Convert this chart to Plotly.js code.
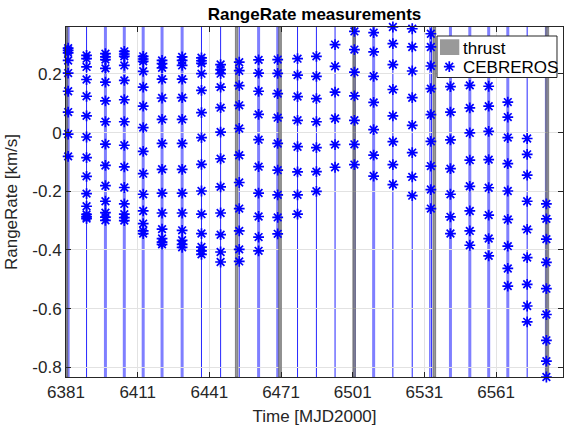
<!DOCTYPE html>
<html>
<head>
<meta charset="utf-8">
<script src="https://cdn.plot.ly/plotly-3.0.1.min.js"></script>
<style>
  html, body { margin: 0; padding: 0; background: #fff; }
  #chart { width: 564px; height: 430px; }
</style>
</head>
<body>
<div id="chart"></div>
<script>
// Tracking passes (MJD2000 day of each pass)
const passDays = [6381.9, 6389.6, 6397.5, 6405.4, 6413.3, 6421.2, 6429.6, 6437.7, 6445.7,
  6453.5, 6461.6, 6469.6, 6477.9, 6485.8, 6493.6, 6501.7, 6509.75, 6517.8, 6525.9,
  6533.7, 6541.9, 6550.0, 6557.9, 6565.9, 6574.0, 6582.05];

// Range-rate samples of each pass [km/s]
const pass01 = [0.288, 0.280, 0.272, 0.246, 0.203, 0.141, 0.070, -0.005, -0.081];
const pass02 = [0.263, 0.252, 0.224, 0.181, 0.124, 0.057, -0.015, -0.085, -0.149, -0.208, -0.251, -0.279, -0.287, -0.293];
const pass03 = [0.269, 0.258, 0.249, 0.219, 0.172, 0.108, 0.037, -0.039, -0.112, -0.181, -0.234, -0.273, -0.288, -0.299];
const pass04 = [0.277, 0.268, 0.260, 0.229, 0.178, 0.112, 0.037, -0.043, -0.117, -0.187, -0.243, -0.278, -0.290, -0.300];
const pass05 = [0.260, 0.251, 0.243, 0.209, 0.155, 0.090, 0.017, -0.064, -0.140, -0.210, -0.267, -0.310, -0.335, -0.344];
const pass06 = [0.246, 0.235, 0.221, 0.182, 0.118, 0.045, -0.037, -0.125, -0.206, -0.274, -0.329, -0.361, -0.373, -0.381];
const pass07 = [0.258, 0.246, 0.229, 0.182, 0.119, 0.045, -0.037, -0.125, -0.206, -0.274, -0.333, -0.367, -0.381, -0.391];
const pass08 = [0.255, 0.245, 0.236, 0.201, 0.144, 0.068, -0.017, -0.108, -0.199, -0.278, -0.344, -0.390, -0.403, -0.415];
const pass09 = [0.232, 0.215, 0.201, 0.155, 0.085, 0.002, -0.089, -0.185, -0.274, -0.348, -0.407, -0.441];
const pass10 = [0.240, 0.211, 0.160, 0.093, 0.014, -0.077, -0.170, -0.259, -0.335, -0.398, -0.439];
const pass11 = [0.248, 0.203, 0.141, 0.062, -0.024, -0.116, -0.206, -0.286, -0.356, -0.403];
const pass12 = [0.249, 0.202, 0.133, 0.051, -0.037, -0.128, -0.212, -0.289, -0.345];
const pass13 = [0.252, 0.196, 0.123, 0.042, -0.048, -0.134, -0.212, -0.278];
const pass14 = [0.260, 0.192, 0.116, 0.037, -0.051, -0.133, -0.200];
const pass15 = [0.300, 0.226, 0.138, 0.048, -0.041, -0.118];
const pass16 = [0.345, 0.283, 0.206, 0.125, 0.042, -0.040, -0.109];
const pass17 = [0.341, 0.275, 0.192, 0.103, 0.010, -0.077, -0.148];
const pass18 = [0.360, 0.303, 0.232, 0.147, 0.057, -0.031, -0.109, -0.177];
const pass19 = [0.354, 0.292, 0.210, 0.119, 0.025, -0.068, -0.151, -0.215];
const pass20 = [0.337, 0.292, 0.227, 0.150, 0.061, -0.030, -0.114, -0.194, -0.259];
const pass21 = [0.157, 0.070, -0.025, -0.123, -0.210, -0.287, -0.344];
const pass22 = [0.161, 0.084, -0.001, -0.094, -0.183, -0.267, -0.335, -0.384];
const pass23 = [0.158, 0.090, 0.004, -0.092, -0.188, -0.281, -0.361, -0.420];
const pass24 = [0.104, 0.053, -0.017, -0.106, -0.199, -0.296, -0.387, -0.463, -0.523];
const pass25 = [-0.020, -0.074, -0.145, -0.234, -0.330, -0.426, -0.517, -0.591, -0.645];
const pass26 = [-0.243, -0.294, -0.363, -0.442, -0.532, -0.620, -0.708, -0.779, -0.833];

// Visibility windows of the station (day) and thrust arcs (start/end day)
const windowDays = [6381.9, 6389.6, 6397.5, 6405.4, 6413.3, 6421.2, 6429.6, 6437.7, 6445.7,
  6453.5, 6461.6, 6469.6, 6477.9, 6485.8, 6493.6, 6501.7, 6509.75, 6517.8, 6525.9,
  6533.3, 6534.0, 6541.9, 6550.0, 6557.9, 6565.9, 6574.0, 6582.05];
const thrustStart = [6381.0, 6451.9, 6470.0, 6501.1, 6534.6, 6581.8];
const thrustEnd   = [6381.7, 6452.9, 6471.1, 6502.1, 6535.7, 6583.0];

// Axis ticks and legend entries
const xTicks = [6381, 6411, 6441, 6471, 6501, 6531, 6561];
const yTicks = [-0.8, -0.6, -0.4, -0.2, 0, 0.2];
const yTickText = ['-0.8', '-0.6', '-0.4', '-0.2', '0', '0.2'];
const legendLabels = ['thrust', 'CEBREROS'];

const passes = [pass01, pass02, pass03, pass04, pass05, pass06, pass07, pass08, pass09,
  pass10, pass11, pass12, pass13, pass14, pass15, pass16, pass17, pass18, pass19,
  pass20, pass21, pass22, pass23, pass24, pass25, pass26];

// Flatten the passes into one measurement series
const measX = [], measY = [];
passes.forEach((p, i) => p.forEach(v => { measX.push(passDays[i]); measY.push(v); }));

const yLo = Math.min(...measY), yHi = Math.max(...measY);

// Thrust arcs as closed boxes separated by gaps
const thrX = [], thrY = [];
thrustStart.forEach((s, i) => {
  const e = thrustEnd[i];
  thrX.push(s, e, e, s, s, null);
  thrY.push(yLo, yLo, yHi, yHi, yLo, null);
});

// Drawing style of the window lines (wide = long window)
const wideWindow = [1,0,1,1,1,1,1,0,0,0,1,1,0,0,0,1,1,0,0,0,0,1,1,1,1,0,1];
const shapes = windowDays.map((d, i) => ({
  type: 'line', xref: 'x', yref: 'paper', x0: d, x1: d, y0: 0, y1: 1, layer: 'below',
  line: wideWindow[i] ? { color: 'rgba(0,0,255,0.5)', width: 3 }
                      : { color: 'rgba(0,0,255,0.85)', width: 1 }
}));

const font = 'Liberation Sans, Arial, Helvetica, sans-serif';
const thrustFill = 'rgba(128,128,128,0.8)';
const starMarker = { symbol: 'asterisk-open', size: 9, color: '#0000ff',
                     line: { color: '#0000ff', width: 1.7 } };

// Legend box drawn on an overlay frame spanning the plot area (0..1 both ways)
const box = { x0: 0.7465, x1: 0.9879, y0: 0.8557, y1: 0.9743 };
const swatch = { x0: 0.7525, x1: 0.7913, y0: 0.920, y1: 0.9649 };
const keyStar = { x: 0.7712, y: 0.8866 };
const labelX = 0.7955, labelY = [0.9400, 0.8830];

const traces = [
  {
    x: thrX, y: thrY, name: legendLabels[0], type: 'scatter', mode: 'lines',
    fill: 'toself', fillcolor: thrustFill,
    line: { color: 'rgba(95,95,95,0.85)', width: 0.8 },
    showlegend: false, hoverinfo: 'skip'
  },
  {
    x: measX, y: measY, name: legendLabels[1], type: 'scatter', mode: 'markers',
    cliponaxis: false, showlegend: false, marker: starMarker
  },
  {
    x: [box.x0, box.x1, box.x1, box.x0, box.x0], y: [box.y0, box.y0, box.y1, box.y1, box.y0],
    xaxis: 'x2', yaxis: 'y2', type: 'scatter', mode: 'lines', fill: 'toself',
    fillcolor: '#ffffff', line: { color: '#262626', width: 1 },
    showlegend: false, hoverinfo: 'skip', cliponaxis: false
  },
  {
    x: [swatch.x0, swatch.x1, swatch.x1, swatch.x0, swatch.x0],
    y: [swatch.y0, swatch.y0, swatch.y1, swatch.y1, swatch.y0],
    xaxis: 'x2', yaxis: 'y2', type: 'scatter', mode: 'lines', fill: 'toself',
    fillcolor: thrustFill, line: { width: 0 },
    showlegend: false, hoverinfo: 'skip', cliponaxis: false
  },
  {
    x: [keyStar.x], y: [keyStar.y], xaxis: 'x2', yaxis: 'y2', type: 'scatter',
    mode: 'markers', marker: starMarker, showlegend: false, hoverinfo: 'skip', cliponaxis: false
  }
];

const axisCommon = {
  showline: true, mirror: 'ticks', linecolor: '#262626', linewidth: 1,
  ticks: 'inside', ticklen: 5, tickwidth: 1, tickcolor: '#262626',
  showgrid: true, gridcolor: '#e2e2e2', gridwidth: 1, zeroline: false,
  tickfont: { family: font, size: 17, color: '#262626' }
};
const overlayAxis = { range: [0, 1], visible: false, showgrid: false, zeroline: false, fixedrange: true };

const layout = {
  width: 564, height: 430,
  margin: { l: 66, r: 1, t: 27, b: 53 },
  paper_bgcolor: '#ffffff', plot_bgcolor: '#ffffff',
  showlegend: false,
  title: {
    text: '<b>RangeRate measurements</b>',
    font: { family: font, size: 17, color: '#000000' },
    x: 0.5, xref: 'paper', xanchor: 'center',
    y: 0.982, yref: 'container', yanchor: 'top'
  },
  xaxis: Object.assign({}, axisCommon, {
    range: [6381, 6589], tickvals: xTicks, ticktext: xTicks.map(String),
    title: { text: 'Time [MJD2000]', font: { family: font, size: 17, color: '#262626' }, standoff: 8 }
  }),
  yaxis: Object.assign({}, axisCommon, {
    range: [yLo, yHi], tickvals: yTicks, ticktext: yTickText,
    title: { text: 'RangeRate [km/s]', font: { family: font, size: 17, color: '#262626' }, standoff: 10 }
  }),
  xaxis2: Object.assign({ overlaying: 'x' }, overlayAxis),
  yaxis2: Object.assign({ overlaying: 'y' }, overlayAxis),
  annotations: legendLabels.map((t, i) => ({
    text: t, xref: 'x2', yref: 'y2', x: labelX, y: labelY[i],
    xanchor: 'left', yanchor: 'middle', showarrow: false,
    font: { family: font, size: 17, color: '#000000' }
  })),
  shapes: shapes
};

Plotly.newPlot('chart', traces, layout, { displayModeBar: false, staticPlot: true });
</script>
</body>
</html>
